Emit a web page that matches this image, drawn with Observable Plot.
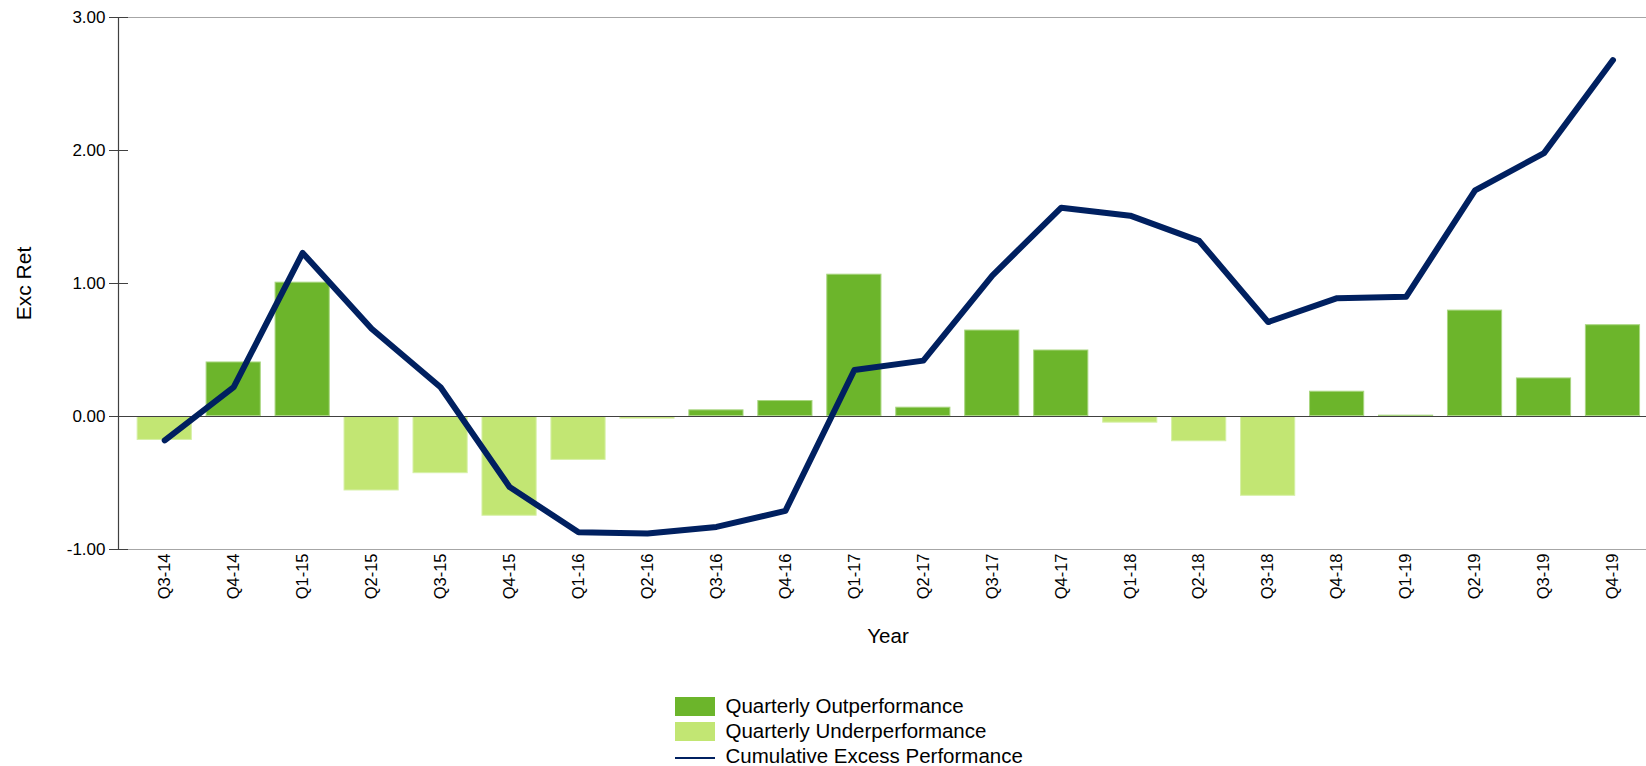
<!DOCTYPE html>
<html>
<head>
<meta charset="utf-8">
<script src="https://cdn.jsdelivr.net/npm/d3@7"></script>
<script src="https://cdn.jsdelivr.net/npm/@observablehq/plot@0.6"></script>
<style>
  html, body { margin: 0; padding: 0; background: #fff; }
  body { width: 1646px; height: 766px; overflow: hidden; font-family: "Liberation Sans", Arial, sans-serif; }
  #wrap { position: relative; width: 1646px; height: 766px; }
  #legend { position: absolute; left: 0; top: 0; width: 1646px; height: 766px; pointer-events: none; }
  .sw { position: absolute; width: 40px; height: 19px; }
  .ln { position: absolute; width: 40px; height: 2px; background: #002060; }
  .lt { position: absolute; font-size: 20.5px; color: #000; line-height: 1; white-space: nowrap; }
</style>
</head>
<body>
<div id="wrap">
  <div id="chart"></div>
  <div id="legend"></div>
</div>
<script>
const quarters = ["Q3-14","Q4-14","Q1-15","Q2-15","Q3-15","Q4-15","Q1-16","Q2-16","Q3-16","Q4-16","Q1-17","Q2-17","Q3-17","Q4-17","Q1-18","Q2-18","Q3-18","Q4-18","Q1-19","Q2-19","Q3-19","Q4-19"];
const quarterly = [-0.18, 0.41, 1.01, -0.56, -0.43, -0.75, -0.33, -0.02, 0.05, 0.12, 1.07, 0.07, 0.65, 0.50, -0.05, -0.19, -0.60, 0.19, 0.01, 0.80, 0.29, 0.69];
const cumulative = [-0.18, 0.22, 1.23, 0.66, 0.22, -0.53, -0.87, -0.88, -0.83, -0.71, 0.35, 0.42, 1.06, 1.57, 1.51, 1.32, 0.71, 0.89, 0.90, 1.70, 1.98, 2.68];
const yTicks = [-1, 0, 1, 2, 3];
const seriesNames = ["Quarterly Outperformance", "Quarterly Underperformance", "Cumulative Excess Performance"];
const colors = {out: "#6cb52b", under: "#c2e673", line: "#002060"};

const rows = quarters.map((q, i) => ({q, v: quarterly[i], c: cumulative[i]}));

const W = 1646, H = 672;
const chart = Plot.plot({
  width: W,
  height: H,
  marginTop: 17,
  marginBottom: 123,
  marginLeft: 118,
  marginRight: 0,
  style: {fontFamily: "Liberation Sans, Arial, sans-serif", color: "#000", background: "#fff", overflow: "visible"},
  x: {domain: quarters, range: [118.3, 1658.4], paddingInner: 0.2, paddingOuter: 0.266, round: false},
  y: {domain: [-1, 3]},
  marks: [
    Plot.ruleY([-1, 3], {stroke: "#a6a6a6", strokeWidth: 1.2}),
    Plot.barY(rows.filter(d => d.v >= 0), {x: "q", y: "v", fill: colors.out, stroke: "#a9d680", strokeWidth: 1, inset: 0.5}),
    Plot.barY(rows.filter(d => d.v < 0), {x: "q", y: "v", fill: colors.under, stroke: "#d6f0a6", strokeWidth: 1, inset: 0.5}),
    Plot.ruleY([0], {stroke: "#404040", strokeWidth: 1.2}),
    Plot.frame({anchor: "left", stroke: "#404040", strokeWidth: 1.2}),
    Plot.axisY({ticks: yTicks, tickSize: 19, dx: 10, tickFormat: () => "", label: null, stroke: "#404040"}),
    Plot.axisY({ticks: yTicks, tickSize: 0, tickPadding: 13, tickFormat: d => d.toFixed(2), label: null, fontSize: 17, fill: "#000"}),
    Plot.axisX({tickSize: 0, tickPadding: 4, tickRotate: -90, label: null, fontSize: 16.5, fill: "#000"}),
    Plot.line(rows, {x: "q", y: "c", stroke: colors.line, strokeWidth: 6, strokeLinejoin: "round", strokeLinecap: "round"}),
    Plot.text(["Exc Ret"], {frameAnchor: "left", dx: -94.5, rotate: -90, fontSize: 21, fill: "#000", textAnchor: "middle", lineAnchor: "middle"}),
    Plot.text(["Year"], {frameAnchor: "bottom", dx: 5.5, dy: 87, fontSize: 20.5, fill: "#000", textAnchor: "middle", lineAnchor: "middle"})
  ]
});
document.getElementById("chart").appendChild(chart);

const legend = document.getElementById("legend");
const items = [
  {name: seriesNames[0], type: "sw", color: colors.out, top: 696.5},
  {name: seriesNames[1], type: "sw", color: colors.under, top: 721.5},
  {name: seriesNames[2], type: "ln", color: colors.line, top: 746.5}
];
items.forEach(it => {
  const s = document.createElement("div");
  if (it.type === "sw") {
    s.className = "sw";
    s.style.left = "675px";
    s.style.top = it.top + "px";
    s.style.background = it.color;
  } else {
    s.className = "ln";
    s.style.left = "675px";
    s.style.top = "756.5px";
  }
  legend.appendChild(s);
  const t = document.createElement("div");
  t.className = "lt";
  t.textContent = it.name;
  t.style.left = "725.5px";
  t.style.top = (it.top - 0.5) + "px";
  legend.appendChild(t);
});
</script>
</body>
</html>
